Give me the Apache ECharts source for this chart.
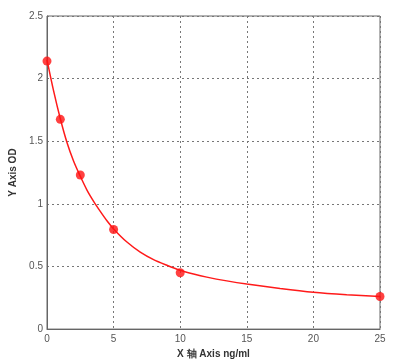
<!DOCTYPE html>
<html><head><meta charset="utf-8">
<script src="https://cdn.jsdelivr.net/npm/echarts@6/dist/echarts.min.js"></script>
<style>html,body{margin:0;padding:0;background:#fff}#c{width:407px;height:364px}</style>
</head><body><div id="c"></div>
<script>
var concentrations = [0, 1, 2.5, 5, 10, 25];
var odValues = [2.14, 1.675, 1.23, 0.795, 0.45, 0.26];
var curveX = [0, 0.5, 1, 1.5, 2, 2.5, 3, 3.5, 4, 4.5, 5, 6, 7, 8, 9, 10, 11, 12, 13.5, 15, 17.5, 20, 22.5, 25];
var curveY = [2.15, 1.9, 1.68, 1.49, 1.34, 1.22, 1.11, 1.02, 0.94, 0.865, 0.8, 0.695, 0.615, 0.555, 0.51, 0.47, 0.44, 0.415, 0.385, 0.36, 0.325, 0.295, 0.275, 0.26];
var xTicks = [0, 5, 10, 15, 20, 25];
var yTicks = [0, 0.5, 1, 1.5, 2, 2.5];
var xName = 'X 轴 Axis ng/ml';
var yName = 'Y Axis OD';

var pts = concentrations.map(function(x, i){ return [x, odValues[i]]; });
var curve = curveX.map(function(x, i){ return [x, curveY[i]]; });
var chart = echarts.init(document.getElementById('c'));
var lbl = {color:'#555', fontSize:10, fontFamily:'Liberation Sans, Arial, sans-serif'};
chart.setOption({
  animation:false,
  grid:{left:47, right:27, top:16, bottom:33, show:true, borderColor:'#666', borderWidth:1},
  xAxis:{type:'value', min:xTicks[0], max:xTicks[xTicks.length-1], interval:xTicks[1]-xTicks[0],
    axisLine:{show:true, lineStyle:{color:'#666'}},
    axisTick:{show:false},
    axisLabel:Object.assign({margin:5}, lbl),
    splitLine:{show:true, lineStyle:{color:'#777', type:[2,3], width:1}},
    name:xName, nameLocation:'middle', nameGap:17,
    nameTextStyle:{color:'#333', fontSize:10, fontWeight:'bold', fontFamily:'Liberation Sans, Arial, sans-serif'}},
  yAxis:{type:'value', min:yTicks[0], max:yTicks[yTicks.length-1], interval:yTicks[1]-yTicks[0],
    axisLine:{show:true, lineStyle:{color:'#666'}},
    axisTick:{show:false},
    axisLabel:Object.assign({margin:4, formatter:function(v){return String(v);}}, lbl),
    splitLine:{show:true, lineStyle:{color:'#777', type:[2,3], width:1}},
    name:yName, nameLocation:'middle', nameGap:22,
    nameTextStyle:{color:'#333', fontSize:10, fontWeight:'bold', fontFamily:'Liberation Sans, Arial, sans-serif'}},
  series:[
    {type:'line', data:curve, smooth:0.3, showSymbol:false,
     lineStyle:{color:'#ff1a1a', width:1.5}, z:2},
    {type:'scatter', data:pts, symbol:'circle', symbolSize:9,
     itemStyle:{color:'#ff1111'}, z:3}
  ]
});
</script></body></html>
